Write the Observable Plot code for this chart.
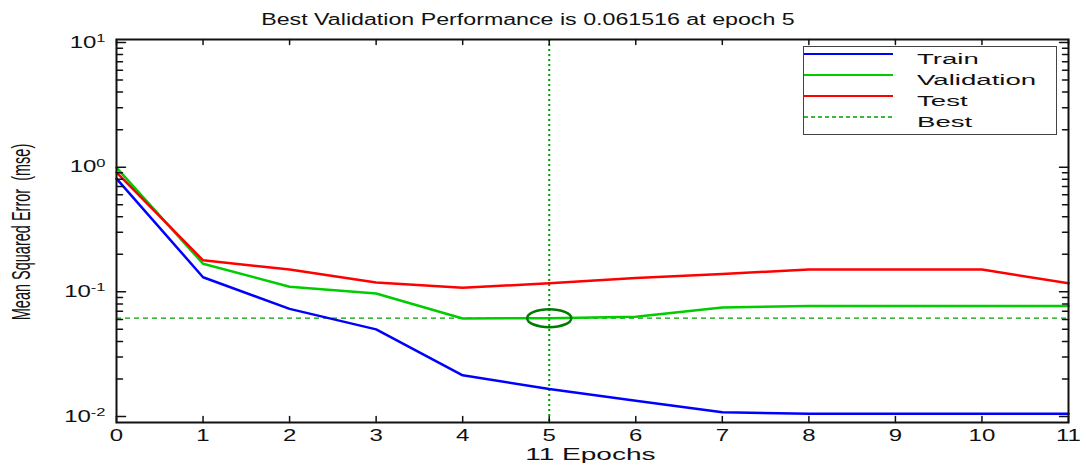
<!DOCTYPE html>
<html><head><meta charset="utf-8">
<script src="https://cdn.jsdelivr.net/npm/d3@7"></script>
<script src="https://cdn.jsdelivr.net/npm/@observablehq/plot@0.6"></script>
<style>
body{margin:0;background:#fff;font-family:"Liberation Sans",Arial,sans-serif;color:#111;}
#wrap{position:relative;width:1086px;height:466px;overflow:hidden;}
#wrap svg{position:absolute;left:0;top:0;}
.ov{position:absolute;white-space:pre;}
#title{top:11px;left:0;width:1056px;text-align:center;font-size:16px;}
#title span{display:inline-block;transform:scaleX(1.45);transform-origin:center;}
#xlabel{top:445px;left:0;width:1180px;text-align:center;font-size:16.5px;}
#xlabel span{display:inline-block;transform:scaleX(1.7);transform-origin:center;}
#ylabel{left:21px;top:232px;font-size:14.5px;transform:translate(-50%,-50%) rotate(-90deg) scale(1,1.8);}
#legend{left:803px;top:46px;width:252px;height:87px;border:1.5px solid #444;background:#fff;}
.row{position:absolute;left:0;height:20px;}
.row svg{position:absolute;left:16px;top:5px;}
.row .lt{position:absolute;left:113px;top:1px;font-size:15.5px;transform:scaleX(1.78);transform-origin:left center;}
</style></head><body><div id="wrap"></div>
<script>
// ---- data ----
const epochs = [0, 1, 2, 3, 4, 5, 6, 7, 8, 9, 10, 11];
const train = [0.81, 0.131, 0.073, 0.050, 0.0214, 0.0166, 0.0134, 0.0108, 0.0105, 0.0105, 0.0105, 0.0105];
const validation = [0.99, 0.168, 0.110, 0.097, 0.0612, 0.0615, 0.063, 0.075, 0.077, 0.077, 0.077, 0.077];
const test = [0.91, 0.179, 0.151, 0.119, 0.108, 0.117, 0.129, 0.139, 0.151, 0.151, 0.151, 0.117];
const bestValue = 0.061516;
const bestEpoch = 5;
const seriesNames = ["Train", "Validation", "Test", "Best"];
const seriesColors = ["#0000ff", "#00cc00", "#ff0000", "#00a000"];
const xTicks = [0, 1, 2, 3, 4, 5, 6, 7, 8, 9, 10, 11];
const yMajorTicks = [0.01, 0.1, 1, 10];
const yMinorTicks = [0.02,0.03,0.04,0.05,0.06,0.07,0.08,0.09,0.2,0.3,0.4,0.5,0.6,0.7,0.8,0.9,2,3,4,5,6,7,8,9];
const titleText = "Best Validation Performance is 0.061516 at epoch 5";
const xLabelText = "11 Epochs";
const yLabelText = "Mean Squared Error  (mse)";

const seriesValues = [train, validation, test];
const rows = seriesValues.flatMap((vals, k) => epochs.map((e, i) => ({epoch: e, mse: vals[i], series: seriesNames[k]})));

const stretchX = 1.5;
function stretchTexts(sel, sx, sy) {
  sel.each(function() {
    const t = this.getAttribute("transform") || "";
    this.setAttribute("transform", t + ` scale(${sx},${sy})`);
  });
}
// plain tick line shape for vectors
const tickShape = {draw(context, l) { context.moveTo(0, 0); context.lineTo(0, -l); }};
const tickOpts = {anchor: "start", shape: tickShape, stroke: "#111", strokeWidth: 1.5};

const chart = Plot.plot({
  width: 1086, height: 466,
  marginLeft: 116, marginRight: 18, marginTop: 39, marginBottom: 44,
  style: {fontFamily: '"Liberation Sans", Arial, sans-serif', fontSize: "16px", color: "#111", background: "white"},
  x: {domain: [0, 11]},
  y: {type: "log", domain: [Math.pow(10, -2.048), Math.pow(10, 1.024)]},
  marks: [
    Plot.ruleY([bestValue], {stroke: seriesColors[3], strokeWidth: 1.3, strokeDasharray: "5,4"}),
    Plot.ruleX([bestEpoch], {stroke: "#00a000", strokeWidth: 2, strokeDasharray: "2,3"}),
    ...seriesNames.slice(0, 3).map((name, k) =>
      Plot.line(rows.filter(d => d.series === name), {x: "epoch", y: "mse", stroke: seriesColors[k], strokeWidth: 2.5})),
    Plot.dot([{epoch: bestEpoch, mse: bestValue}], {
      x: "epoch", y: "mse", r: 9, stroke: "#007a00", strokeWidth: 2.5, fill: "none",
      render(index, scales, values, dimensions, context, next) {
        const g = next(index, scales, values, dimensions, context);
        const X = values.x, Y = values.y;
        d3.select(g).selectAll("circle").each(function(_, j) {
          const i = index[j];
          this.setAttribute("cx", 0); this.setAttribute("cy", 0);
          this.setAttribute("transform", `translate(${X[i]},${Y[i]}) scale(2.45,1)`);
          this.setAttribute("vector-effect", "non-scaling-stroke");
        });
        return g;
      }
    }),
    // inward ticks
    Plot.vector(xTicks, {x: d => d, frameAnchor: "bottom", length: 6, rotate: 0, ...tickOpts}),
    Plot.vector(xTicks, {x: d => d, frameAnchor: "top", length: 5, rotate: 180, ...tickOpts}),
    Plot.vector(yMajorTicks, {y: d => d, frameAnchor: "left", length: 9, rotate: 90, ...tickOpts}),
    Plot.vector(yMinorTicks, {y: d => d, frameAnchor: "left", length: 6, rotate: 90, ...tickOpts}),
    Plot.vector(yMajorTicks, {y: d => d, frameAnchor: "right", length: 9, rotate: -90, ...tickOpts}),
    Plot.vector(yMinorTicks, {y: d => d, frameAnchor: "right", length: 6, rotate: -90, ...tickOpts}),
    Plot.axisX({ticks: xTicks, tickSize: 0, tickPadding: 7, tickFormat: d => String(d), label: null}),
    Plot.axisY({ticks: yMajorTicks, tickSize: 0, tickPadding: 11, tickFormat: d => String(Math.round(Math.log10(d))), label: null}),
    Plot.frame({stroke: "#111", strokeWidth: 2})
  ]
});

// superscript exponents on y tick labels
d3.select(chart).selectAll('g[aria-label="y-axis tick label"] text').each(function() {
  const exp = this.textContent;
  const t = d3.select(this);
  t.text("10");
  t.append("tspan").attr("dy", "-0.5em").attr("font-size", "11px").text(exp);
});
stretchTexts(d3.select(chart).selectAll('g[aria-label="x-axis tick label"] text'), stretchX, 1);
stretchTexts(d3.select(chart).selectAll('g[aria-label="y-axis tick label"] text'), stretchX, 1);

const wrap = document.getElementById("wrap");
wrap.appendChild(chart);

function addDiv(id, text) {
  const d = document.createElement("div");
  d.className = "ov"; d.id = id;
  const s = document.createElement("span"); s.textContent = text;
  d.appendChild(s); wrap.appendChild(d);
  return d;
}
addDiv("title", titleText);
addDiv("xlabel", xLabelText);
addDiv("ylabel", yLabelText);

// legend
const lg = document.createElement("div");
lg.className = "ov"; lg.id = "legend";
const dashes = [null, null, null, "4,3"];
const widths = [2.2, 2.2, 2.2, 1.3];
seriesNames.forEach((name, k) => {
  const r = document.createElement("div");
  r.className = "row"; r.style.top = (2 + k * 21) + "px"; r.style.width = "250px";
  r.innerHTML = `<svg width="90" height="10"><line x1="0" x2="89" y1="5" y2="5" stroke="${seriesColors[k]}" stroke-width="${widths[k]}" ${dashes[k] ? `stroke-dasharray="${dashes[k]}"` : ""}/></svg><span class="lt">${name}</span>`;
  lg.appendChild(r);
});
wrap.appendChild(lg);
</script>
</body></html>
